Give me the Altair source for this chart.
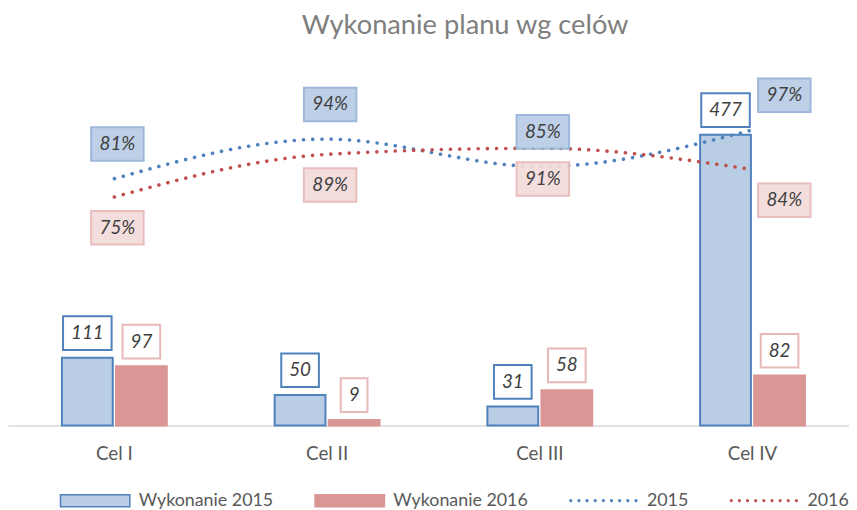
import altair as alt
import pandas as pd

# ---- data ----
cele = ["Cel I", "Cel II", "Cel III", "Cel IV"]
wykonanie_2015 = [111, 50, 31, 477]
wykonanie_2016 = [97, 9, 58, 82]
procent_2015 = [0.81, 0.94, 0.85, 0.97]
procent_2016 = [0.75, 0.89, 0.91, 0.84]
serie_slupki = ["Wykonanie 2015", "Wykonanie 2016"]
serie_linie = ["2015", "2016"]

bars_df = pd.DataFrame({
    "cel": cele * 2,
    "seria": [serie_slupki[0]] * len(cele) + [serie_slupki[1]] * len(cele),
    "wartosc": wykonanie_2015 + wykonanie_2016,
})
lines_df = pd.DataFrame({
    "cel": cele * 2,
    "rok": [serie_linie[0]] * len(cele) + [serie_linie[1]] * len(cele),
    "procent": procent_2015 + procent_2016,
})
legend_df = pd.DataFrame({"seria": serie_slupki + serie_linie})

# ---- styles ----
BLUE = "#4F81BD"
BLUE_LIGHT = "#B9CDE5"
BLUE_MID = "#95B3D7"
RED = "#C0504D"
RED_FILL = "#D99694"
RED_LIGHT = "#E6B9B8"
RED_PALE = "#F2DCDB"
TXT = "#404040"
FONT = "Lato"

RECT_LEG = "M-1,-0.171L1,-0.171L1,0.171L-1,0.171Z"
dots = []
for i in range(9):
    cx = -0.94 + 0.235 * i
    r = 0.025
    dots.append(f"M{cx - r:.3f},0A{r},{r} 0 1,0 {cx + r:.3f},0A{r},{r} 0 1,0 {cx - r:.3f},0Z")
DOTS_LEG = "".join(dots)

all_series = serie_slupki + serie_linie
fill_scale = alt.Scale(domain=all_series, range=[BLUE_LIGHT, RED_FILL, BLUE, RED])
stroke_scale = alt.Scale(domain=all_series, range=[BLUE, RED_FILL, BLUE, RED])
shape_scale = alt.Scale(domain=all_series, range=[RECT_LEG, RECT_LEG, DOTS_LEG, DOTS_LEG])

legend_def = alt.Legend(
    title=None, orient="none", legendX=52, legendY=409, direction="horizontal",
    symbolSize=4900, symbolStrokeWidth=1.5, symbolOpacity=1,
    labelFont=FONT, labelFontSize=18, labelColor="#595959", labelOffset=8,
    columnPadding=39, labelLimit=400, padding=0,
)

x_enc = alt.X(
    "cel:N", sort=cele,
    scale=alt.Scale(range=[0, 859], paddingInner=0.507, paddingOuter=0.2535),
    axis=alt.Axis(title=None, labelAngle=0, ticks=False, grid=False,
                  domainColor="#D9D9D9", domainWidth=1.5,
                  labelColor="#595959", labelFont=FONT, labelFontSize=19,
                  labelPadding=34, labelBaseline="alphabetic"),
)
xoff_enc = alt.XOffset("seria:N", sort=serie_slupki, scale=alt.Scale(paddingInner=0.06))
y_val = alt.Y("wartosc:Q", scale=alt.Scale(domain=[0, 600]), axis=None)
y_pct = alt.Y("procent:Q", scale=alt.Scale(domain=[0, 1.2]), axis=None)

# legend carrier (no visible marks)
leg = alt.Chart(legend_df).transform_filter("false").mark_point(filled=True).encode(
    fill=alt.Fill("seria:N", scale=fill_scale, legend=legend_def),
    stroke=alt.Stroke("seria:N", scale=stroke_scale, legend=legend_def),
    shape=alt.Shape("seria:N", scale=shape_scale, legend=legend_def),
)

bars = alt.Chart(bars_df).mark_bar(strokeWidth=2).encode(
    x=x_enc, xOffset=xoff_enc, y=y_val,
    fill=alt.Fill("seria:N", scale=fill_scale, legend=legend_def),
    stroke=alt.condition(f"datum.seria == '{serie_slupki[0]}'", alt.value(BLUE), alt.value(RED_FILL)),
)

line_layers = []
for rok, col in zip(serie_linie, [BLUE, RED]):
    line_layers.append(
        alt.Chart(lines_df).transform_filter(f"datum.rok == '{rok}'").mark_line(
            color=col, strokeWidth=3.6, strokeDash=[0.1, 9.2], strokeCap="round",
            interpolate="monotone",
        ).encode(x=x_enc, y=y_pct)
    )

# value labels on bars (boxed)
bar_box = alt.Chart(bars_df).transform_calculate(
    w="16 + 11 * length(toString(datum.wartosc))",
).transform_calculate(
    sz="datum.w * datum.w",
    path="'M-1,' + (-34 / datum.w) + 'L1,' + (-34 / datum.w) + 'L1,' + (34 / datum.w) + 'L-1,' + (34 / datum.w) + 'Z'",
).mark_point(filled=True, strokeWidth=2, yOffset=-25, opacity=1).encode(
    x=x_enc, xOffset=xoff_enc, y=y_val,
    shape=alt.Shape("path:N", scale=None, legend=None),
    size=alt.Size("sz:Q", scale=None, legend=None),
    fill=alt.value("white"),
    stroke=alt.condition(f"datum.seria == '{serie_slupki[0]}'", alt.value(BLUE), alt.value(RED_LIGHT)),
)
bar_txt = alt.Chart(bars_df).mark_text(
    yOffset=-25, font=FONT, fontSize=19, fontStyle="italic", color=TXT, baseline="middle",
).encode(x=x_enc, xOffset=xoff_enc, y=y_val, text=alt.Text("wartosc:Q"))

# percentage labels (boxed): 2015 above the line, 2016 below
pct_layers = []
for rok, dy, fill_c, stroke_c in [
    (serie_linie[0], -35, BLUE_LIGHT, BLUE_MID),
    (serie_linie[1], 31, RED_PALE, RED_LIGHT),
]:
    base = alt.Chart(lines_df).transform_filter(f"datum.rok == '{rok}'").transform_calculate(
        dx="53 + (datum.cel == 'Cel IV' ? 32 : 3)",
    )
    pct_layers.append(base.mark_point(
        filled=True, strokeWidth=2, opacity=0.92, yOffset=dy,
        shape="M-1,-0.64L1,-0.64L1,0.64L-1,0.64Z", size=53 * 53,
        fill=fill_c, stroke=stroke_c,
    ).encode(x=x_enc, y=y_pct, xOffset=alt.XOffset("dx:Q", scale=None)))
    pct_layers.append(base.mark_text(
        yOffset=dy, font=FONT, fontSize=19, fontStyle="italic", color=TXT, baseline="middle",
    ).encode(
        x=x_enc, y=y_pct, xOffset=alt.XOffset("dx:Q", scale=None),
        text=alt.Text("procent:Q", format=".0%"),
    ))

chart = alt.layer(leg, bars, *line_layers, bar_box, bar_txt, *pct_layers).resolve_scale(
    y="independent"
).properties(
    width=849, height=369,
    autosize=alt.AutoSizeParams(type="none"),
    padding={"left": 0, "top": 50, "right": 0, "bottom": 90},
    title=alt.TitleParams(
        "Wykonanie planu wg celów", font=FONT, fontSize=27.5, fontWeight="normal",
        color="#7F7F7F", dx=37, offset=-1, baseline="alphabetic", anchor="middle",
        frame="group",
    ),
).configure(background="white").configure_view(stroke=None)

chart.save("out.html", embed_options={"renderer": "svg", "actions": False})
